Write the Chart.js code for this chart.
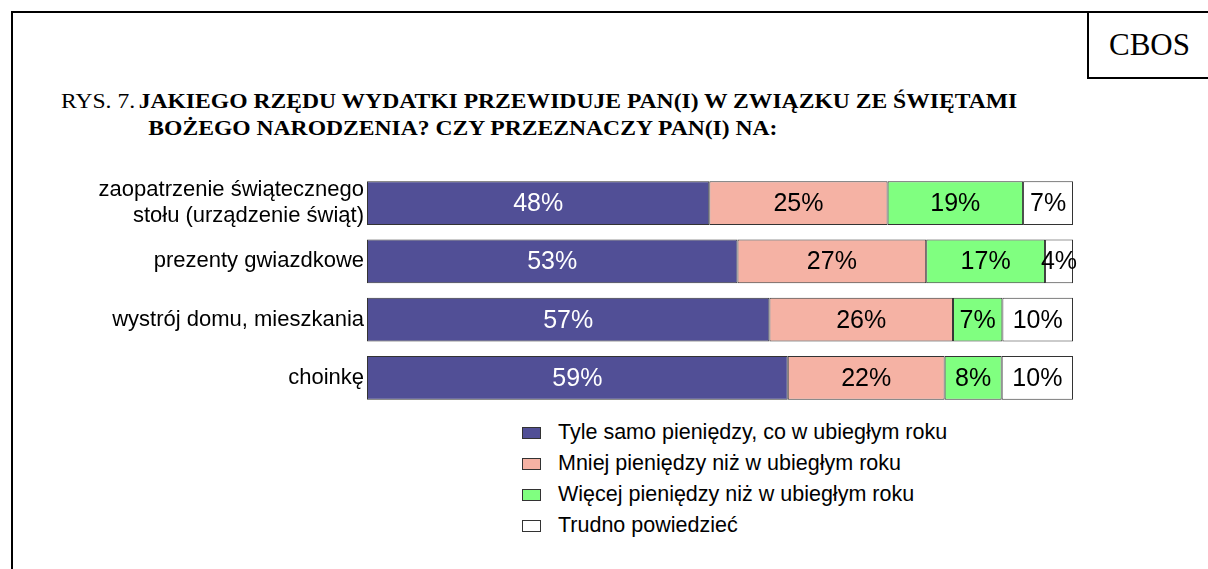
<!DOCTYPE html>
<html>
<head>
<meta charset="utf-8">
<script src="https://cdn.jsdelivr.net/npm/chart.js@4.4.0/dist/chart.umd.min.js"></script>
<style>
  body { margin:0; background:#fff; width:1208px; height:569px; position:relative; overflow:hidden; }
  .frameTop { position:absolute; left:11px; top:11px; width:1197px; height:2px; background:#000; }
  .frameLeft { position:absolute; left:11px; top:11px; width:2px; height:558px; background:#000; }
  .cbos { position:absolute; left:1087px; top:11px; width:121px; height:66px; border-left:2px solid #000; border-bottom:2px solid #000;
          font-family:"Liberation Serif", serif; font-size:31px; line-height:68px; text-align:center; }
  .title { position:absolute; left:61px; top:88px; font-family:"Liberation Serif", serif; font-size:20px; line-height:27px; color:#000;
           transform:scaleX(1.18); transform-origin:left top; white-space:nowrap; }
  .title .rys { margin-right:-2px; }
  .title .l2 { padding-left:74px; }
  #chartBox { position:absolute; left:0; top:165px; width:1208px; height:245px; }
  .legend { position:absolute; left:522px; top:417px; font-family:"Liberation Sans", Arial, sans-serif; font-size:21.5px; }
  .legend div { height:31px; display:flex; align-items:center; }
  .legend span.box { display:inline-block; width:17px; height:10px; border:1px solid #333; margin-right:17px; }
</style>
</head>
<body>
<div class="frameTop"></div>
<div class="frameLeft"></div>
<div class="cbos">CBOS</div>
<div class="title"><span class="rys">RYS. 7.</span> <b>JAKIEGO RZĘDU WYDATKI PRZEWIDUJE PAN(I) W ZWIĄZKU ZE ŚWIĘTAMI</b><br><span class="l2"><b>BOŻEGO NARODZENIA? CZY PRZEZNACZY PAN(I) NA:</b></span></div>
<div id="chartBox"><canvas id="myChart" width="1208" height="245"></canvas></div>
<div class="legend" id="legend"></div>
<script>
// kategorie (oś Y)
const categories = [['zaopatrzenie świątecznego', 'stołu (urządzenie świąt)'], 'prezenty gwiazdkowe', 'wystrój domu, mieszkania', 'choinkę'];
// nazwy serii
const seriesNames = ['Tyle samo pieniędzy, co w ubiegłym roku', 'Mniej pieniędzy niż w ubiegłym roku', 'Więcej pieniędzy niż w ubiegłym roku', 'Trudno powiedzieć'];
// wartości w %
const tyleSamo = [48, 53, 57, 59];
const mniej = [25, 27, 26, 22];
const wiecej = [19, 17, 7, 8];
const trudno = [7, 4, 10, 10];
const colors = ['#514f96', '#f5b2a4', '#80ff80', '#ffffff'];
const labelColors = ['#ffffff', '#000000', '#000000', '#000000'];

const series = [tyleSamo, mniej, wiecej, trudno];
// 100% skumulowane - normalizacja jak w Excelu
const rowSum = categories.map((c, i) => series.reduce((s, arr) => s + arr[i], 0));

const datasets = series.map((arr, k) => ({
    label: seriesNames[k],
    data: arr.map((v, i) => v / rowSum[i] * 100),
    raw: arr,
    backgroundColor: colors[k],
    borderColor: '#333333',
    borderWidth: 1,
    borderSkipped: false,
    barPercentage: 0.755,
    categoryPercentage: 1
}));

// etykiety wartości na słupkach
const valueLabels = {
    id: 'valueLabels',
    afterDatasetsDraw(chart) {
        const ctx = chart.ctx;
        ctx.save();
        ctx.font = '25px "Liberation Sans", Arial, sans-serif';
        ctx.textAlign = 'center';
        ctx.textBaseline = 'middle';
        chart.data.datasets.forEach((ds, k) => {
            chart.getDatasetMeta(k).data.forEach((el, i) => {
                ctx.fillStyle = labelColors[k];
                ctx.fillText(ds.raw[i] + '%', (el.x + el.base) / 2, el.y + 1);
            });
        });
        ctx.restore();
    }
};

new Chart(document.getElementById('myChart'), {
    type: 'bar',
    data: { labels: categories, datasets: datasets },
    plugins: [valueLabels],
    options: {
        indexAxis: 'y',
        responsive: false,
        animation: false,
        layout: { padding: { left: 0, right: 135, top: 9, bottom: 3 } },
        plugins: { legend: { display: false }, tooltip: { enabled: false } },
        scales: {
            x: { stacked: true, min: 0, max: 100, display: false },
            y: {
                stacked: true,
                grid: { display: false, drawTicks: false },
                border: { display: false },
                ticks: { color: '#000', font: { family: '"Liberation Sans", Arial, sans-serif', size: 22, lineHeight: 1.2 }, padding: 3 },
                afterFit(scale) {
                    scale.width = 367;
                    scale.paddingTop = 0;
                    scale.paddingBottom = 0;
                }
            }
        }
    }
});

// legenda
const legend = document.getElementById('legend');
seriesNames.forEach((name, k) => {
    const row = document.createElement('div');
    row.innerHTML = `<span class="box" style="background:${colors[k]}"></span>${name}`;
    legend.appendChild(row);
});
</script>
</body>
</html>
